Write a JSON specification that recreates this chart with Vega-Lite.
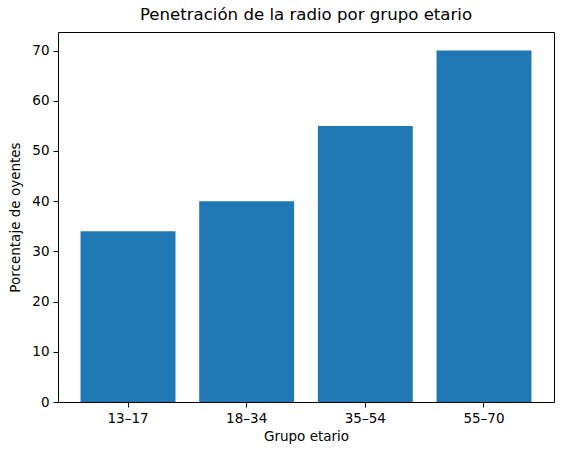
{
  "$schema": "https://vega.github.io/schema/vega-lite/v6.json",
  "autosize": "none",
  "padding": {"left": 58, "top": 32, "right": 8, "bottom": 53},
  "width": 496,
  "height": 370,
  "title": {
    "text": "Penetración de la radio por grupo etario",
    "font": "DejaVu Sans",
    "fontSize": 16.6,
    "fontWeight": "normal",
    "color": "#000000",
    "offset": 8
  },
  "data": {
    "values": [
      {"grupo": "13–17", "pct": 34},
      {"grupo": "18–34", "pct": 40},
      {"grupo": "35–54", "pct": 55},
      {"grupo": "55–70", "pct": 70}
    ]
  },
  "mark": {"type": "bar", "color": "#1f77b4"},
  "encoding": {
    "x": {
      "field": "grupo",
      "type": "nominal",
      "sort": null,
      "title": "Grupo etario",
      "scale": {"paddingInner": 0.2, "paddingOuter": 0.19},
      "axis": {"labelAngle": 0}
    },
    "y": {
      "field": "pct",
      "type": "quantitative",
      "title": "Porcentaje de oyentes",
      "scale": {"domain": [0, 73.7], "nice": false},
      "axis": {"values": [0, 10, 20, 30, 40, 50, 60, 70], "titlePadding": 9}
    }
  },
  "config": {
    "view": {"stroke": "#000000", "strokeWidth": 1},
    "axis": {
      "grid": false,
      "domain": false,
      "tickColor": "#000000",
      "tickSize": 5,
      "labelFont": "DejaVu Sans",
      "labelFontSize": 13.5,
      "labelColor": "#000000",
      "labelPadding": 4,
      "titleFont": "DejaVu Sans",
      "titleFontSize": 13.5,
      "titleFontWeight": "normal",
      "titleColor": "#000000",
      "titlePadding": 5
    }
  }
}
